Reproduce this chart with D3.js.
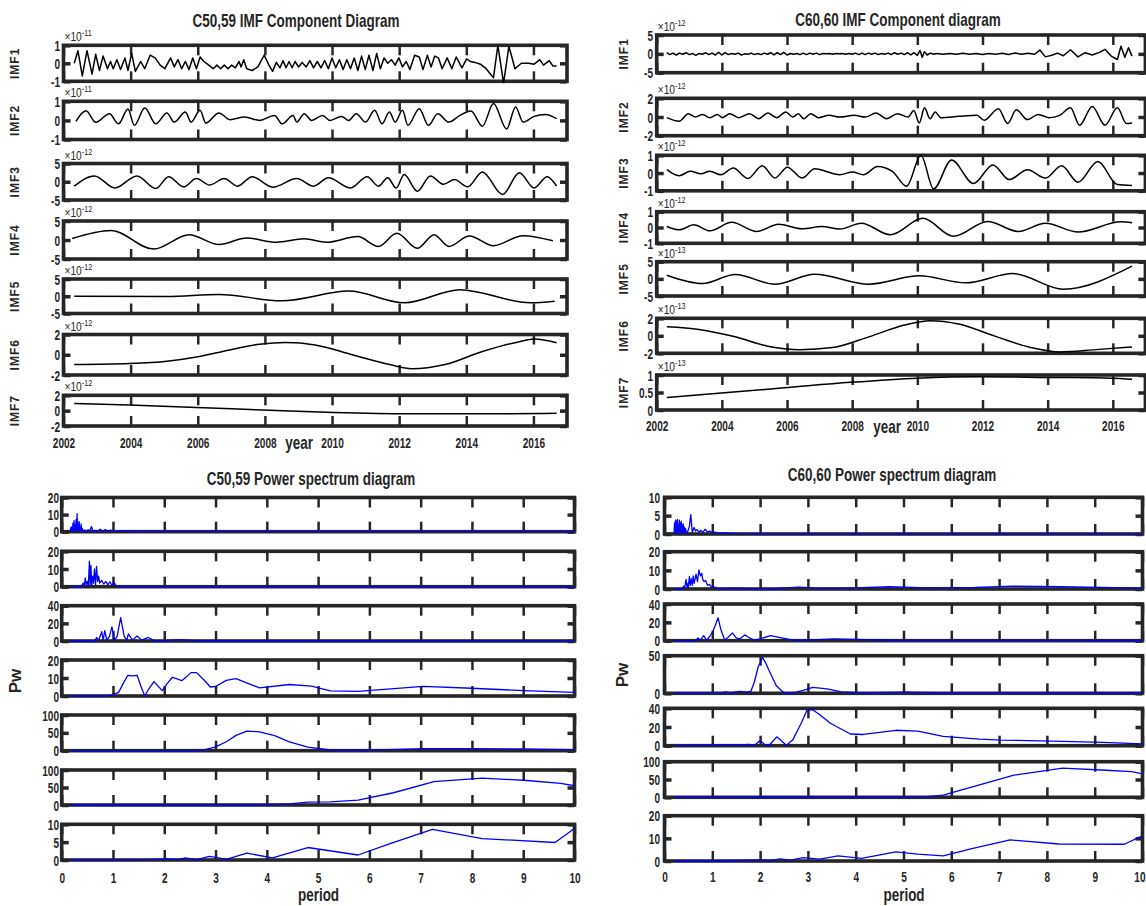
<!DOCTYPE html>
<html><head><meta charset="utf-8">
<script src="https://cdn.jsdelivr.net/npm/d3@7"></script>
<style>body{margin:0;background:#fff}svg{display:block}</style>
</head><body>
<script>
// ---------- tick labels / categories ----------
const yearTicks = [2002, 2004, 2006, 2008, 2010, 2012, 2014, 2016];
const periodTicks = [0, 1, 2, 3, 4, 5, 6, 7, 8, 9, 10];
const imfNames = ["IMF1", "IMF2", "IMF3", "IMF4", "IMF5", "IMF6", "IMF7"];

const c5059ImfExp = [-11, -11, -12, -12, -12, -12, -12];
const c5059ImfTicks = [[-1,0,1],[-1,0,1],[-5,0,5],[-5,0,5],[-5,0,5],[-2,0,2],[-2,0,2]];
const c6060ImfExp = [-12, -12, -12, -12, -13, -13, -13];
const c6060ImfTicks = [[-5,0,5],[-2,0,2],[-1,0,1],[-1,0,1],[-5,0,5],[-2,0,2],[0,0.5,1]];
const c5059PwTicks = [[0,10,20],[0,10,20],[0,20,40],[0,10,20],[0,50,100],[0,50,100],[0,5,10]];
const c6060PwTicks = [[0,5,10],[0,10,20],[0,20,40],[0,50],[0,20,40],[0,50,100],[0,10,20]];

// ---------- C50,59 IMF components  [year, value in units of 10^exp] ----------
const c5059Imf1 = [[2002.32,0],[2002.43,0.7],[2002.56,-0.7],[2002.70,0.7],[2002.85,-0.6],[2002.96,0.5],[2003.07,-0.4],[2003.18,0.4],[2003.31,-0.3],[2003.40,0.1],[2003.48,-0.3],[2003.59,0.2],[2003.70,-0.35],[2003.83,0.3],[2003.92,-0.4],[2004.03,0.55],[2004.14,-0.45],[2004.30,0.1],[2004.42,-0.3],[2004.58,0.45],[2004.73,0.3],[2004.88,-0.1],[2005.02,-0.3],[2005.19,0.3],[2005.30,-0.2],[2005.41,0.2],[2005.52,-0.3],[2005.63,0.1],[2005.74,-0.35],[2005.85,0.3],[2005.96,-0.3],[2006.07,0.35],[2006.18,0.1],[2006.29,-0.05],[2006.46,-0.3],[2006.57,-0.1],[2006.68,-0.3],[2006.79,-0.1],[2006.90,-0.3],[2007.01,-0.1],[2007.12,-0.25],[2007.23,0.1],[2007.29,-0.2],[2007.37,0.2],[2007.46,-0.3],[2007.62,-0.4],[2007.79,-0.2],[2007.98,0.45],[2008.12,-0.1],[2008.23,-0.45],[2008.34,0.05],[2008.45,-0.25],[2008.54,0.15],[2008.63,-0.25],[2008.72,0.1],[2008.81,-0.25],[2008.90,0.1],[2009.00,-0.2],[2009.11,0.05],[2009.23,-0.2],[2009.34,0.15],[2009.45,-0.25],[2009.56,0.1],[2009.67,-0.25],[2009.78,0.15],[2009.89,-0.3],[2010.00,0.3],[2010.11,-0.25],[2010.22,0.2],[2010.33,-0.35],[2010.44,0.2],[2010.55,-0.3],[2010.66,0.3],[2010.77,-0.4],[2010.88,0.4],[2010.99,-0.35],[2011.10,0.45],[2011.22,-0.4],[2011.33,0.55],[2011.44,-0.3],[2011.55,0.3],[2011.66,0.0],[2011.77,0.2],[2011.88,-0.1],[2011.99,0.3],[2012.10,-0.2],[2012.21,0.1],[2012.32,-0.35],[2012.46,0.45],[2012.60,0.35],[2012.71,-0.35],[2012.84,0.45],[2012.95,-0.2],[2013.06,0.4],[2013.17,0.3],[2013.28,-0.3],[2013.43,0.3],[2013.57,-0.3],[2013.70,0.35],[2013.87,-0.25],[2014.01,0.25],[2014.12,0.1],[2014.26,0.05],[2014.42,-0.05],[2014.59,-0.3],[2014.81,-0.8],[2014.94,1.0],[2015.11,-1.1],[2015.27,0.95],[2015.45,-0.3],[2015.64,0.0],[2015.86,0.0],[2016.02,-0.05],[2016.19,0.2],[2016.30,-0.1],[2016.47,0.15],[2016.58,-0.15],[2016.69,-0.15]];
const c5059Imf2 = [[2002.37,-0.05],[2002.67,0.5],[2002.96,-0.1],[2003.37,0.35],[2003.64,-0.18],[2003.92,0.6],[2004.11,-0.26],[2004.42,0.65],[2004.75,-0.18],[2005.08,0.39],[2005.30,-0.09],[2005.63,0.44],[2005.80,-0.09],[2006.07,0.53],[2006.24,-0.14],[2006.63,0.39],[2006.96,0.04],[2007.40,0.18],[2007.84,0.0],[2008.29,0.26],[2008.51,-0.18],[2008.84,0.26],[2008.95,-0.09],[2009.17,0.35],[2009.39,0.0],[2009.72,0.26],[2009.94,0.0],[2010.28,0.21],[2010.50,0.0],[2010.72,0.35],[2011.00,-0.09],[2011.27,0.53],[2011.49,-0.18],[2011.71,0.44],[2011.88,-0.09],[2012.10,0.53],[2012.26,-0.26],[2012.60,0.61],[2012.87,-0.26],[2013.15,0.35],[2013.48,-0.09],[2013.81,0.26],[2014.14,0.49],[2014.48,-0.3],[2014.81,0.88],[2015.20,-0.45],[2015.47,0.70],[2015.69,-0.09],[2016.02,0.21],[2016.36,0.31],[2016.69,0.09]];
const c5059Imf3 = [[2002.32,-1.2],[2002.92,1.6],[2003.53,-1.7],[2004.19,1.6],[2004.75,-1.85],[2005.13,1.4],[2005.58,-1.4],[2005.96,0.9],[2006.35,-0.9],[2006.79,0.9],[2007.18,-1.2],[2007.62,1.4],[2008.23,-1.5],[2008.95,0.9],[2009.45,-1.2],[2009.89,1.1],[2010.55,-1.7],[2011.05,1.4],[2011.38,-1.2],[2011.66,1.1],[2011.91,-1.7],[2012.15,2.0],[2012.54,-2.6],[2012.93,1.6],[2013.32,-0.7],[2013.65,0.6],[2014.04,-1.4],[2014.48,2.7],[2015.08,-3.5],[2015.58,2.5],[2016.02,-1.7],[2016.41,1.4],[2016.69,-1.2]];
const c5059Imf4 = [[2002.26,0.4],[2003.42,2.5],[2004.69,-2.4],[2005.74,1.4],[2006.63,-1.2],[2007.46,0.5],[2008.34,-0.6],[2009.17,0.3],[2009.83,-0.6],[2010.77,0.9],[2011.38,-1.7],[2011.93,1.75],[2012.54,-2.2],[2013.04,1.4],[2013.48,-1.7],[2014.09,1.05],[2014.81,-1.5],[2015.69,1.15],[2016.58,-0.2]];
const c5059Imf5 = [[2002.32,0],[2005.08,-0.1],[2006.63,0.5],[2008.51,-1.3],[2010.50,1.5],[2012.16,-1.9],[2013.81,1.9],[2015.91,-1.9],[2016.63,-1.45]];
const c5059Imf6 = [[2002.32,-0.97],[2003.97,-0.87],[2005.08,-0.65],[2005.96,-0.23],[2006.74,0.32],[2007.84,1.03],[2008.62,1.2],[2009.50,0.97],[2010.61,0.0],[2011.71,-0.97],[2012.38,-1.39],[2013.37,-0.97],[2014.48,0.32],[2015.58,1.29],[2016.02,1.55],[2016.69,1.19]];
const c5059Imf7 = [[2002.32,0.93],[2003.97,0.72],[2005.96,0.42],[2007.95,0.08],[2010.06,-0.25],[2012.27,-0.42],[2014.48,-0.42],[2016.69,-0.34]];

// ---------- C60,60 IMF components ----------
const c6060Imf1 = [[2002.31,0.3],[2002.4,-0.2],[2002.5,0.2],[2002.6,-0.3],[2002.7,0.2],[2002.8,-0.1],[2002.9,0.3],[2003.0,-0.2],[2003.1,0.1],[2003.2,-0.4],[2003.3,0.1],[2003.4,-0.1],[2003.5,0.3],[2003.6,-0.2],[2003.7,0.2],[2003.8,-0.3],[2003.9,0.4],[2004.0,-0.3],[2004.1,0.3],[2004.2,-0.2],[2004.3,0.1],[2004.4,-0.1],[2004.5,0.2],[2004.6,-0.3],[2004.7,0.0],[2004.8,-0.1],[2004.9,0.2],[2005.0,-0.2],[2005.1,0.1],[2005.2,-0.2],[2005.3,0.2],[2005.4,-0.1],[2005.5,0.3],[2005.6,-0.3],[2005.7,0.3],[2005.8,-0.2],[2005.9,0.4],[2006.0,-0.3],[2006.1,0.1],[2006.2,-0.1],[2006.3,0.1],[2006.4,-0.2],[2006.5,0.2],[2006.6,-0.2],[2006.7,0.2],[2006.8,-0.1],[2006.9,0.2],[2007.0,-0.2],[2007.1,0.1],[2007.2,0.0],[2007.3,0.1],[2007.4,-0.1],[2007.5,0.1],[2007.6,0.0],[2007.7,0.1],[2007.8,-0.1],[2007.9,0.1],[2008.0,-0.1],[2008.1,0.2],[2008.2,-0.2],[2008.3,0.2],[2008.4,-0.2],[2008.5,0.2],[2008.6,-0.1],[2008.7,0.2],[2008.8,-0.2],[2008.9,0.1],[2009.0,-0.1],[2009.1,0.2],[2009.2,-0.2],[2009.3,0.3],[2009.4,-0.1],[2009.5,0.2],[2009.6,-0.2],[2009.7,0.3],[2009.8,-0.3],[2009.9,0.3],[2010.0,-0.4],[2010.08,0.9],[2010.15,-0.9],[2010.22,0.6],[2010.3,-0.3],[2010.4,0.2],[2010.5,-0.1],[2010.6,0.1],[2010.8,-0.1],[2011.0,0.1],[2011.2,-0.1],[2011.4,0.15],[2011.6,-0.1],[2011.8,0.1],[2012.0,-0.15],[2012.2,0.1],[2012.4,-0.1],[2012.6,0.15],[2012.8,-0.15],[2013.0,0.2],[2013.2,-0.1],[2013.4,0.15],[2013.6,-0.1],[2013.76,1.0],[2013.93,-0.8],[2014.15,-0.3],[2014.3,0.2],[2014.48,-0.5],[2014.70,1.1],[2014.93,-0.8],[2015.15,0.3],[2015.37,-0.3],[2015.59,0.4],[2015.76,1.2],[2015.95,-0.6],[2016.14,-1.5],[2016.25,2.0],[2016.37,-0.9],[2016.48,1.6],[2016.59,-0.6]];
const c6060Imf2 = [[2002.31,-0.07],[2002.69,-0.46],[2002.97,0.35],[2003.19,0.0],[2003.41,0.28],[2003.63,-0.07],[2003.86,0.28],[2004.02,-0.07],[2004.24,0.35],[2004.52,-0.07],[2004.85,0.35],[2005.13,-0.18],[2005.41,0.42],[2005.68,-0.07],[2005.96,0.53],[2006.18,0.0],[2006.35,0.35],[2006.51,-0.18],[2006.73,0.35],[2006.96,-0.07],[2007.29,0.18],[2007.62,0.0],[2008.06,0.18],[2008.40,0.0],[2008.73,0.42],[2009.06,-0.18],[2009.39,0.35],[2009.72,0.0],[2009.89,0.7],[2010.06,-0.63],[2010.22,0.98],[2010.39,-0.18],[2010.55,0.53],[2010.72,-0.07],[2011.27,0.07],[2011.83,0.18],[2012.05,-0.35],[2012.49,0.88],[2012.77,-0.7],[2013.04,0.77],[2013.38,-0.28],[2013.71,0.28],[2014.04,-0.07],[2014.37,0.18],[2014.70,0.98],[2014.98,-0.88],[2015.37,1.12],[2015.76,-0.88],[2016.14,0.98],[2016.42,-0.7],[2016.59,-0.63]];
const c6060Imf3 = [[2002.31,0.19],[2002.69,-0.15],[2003.03,0.1],[2003.36,-0.04],[2003.63,0.1],[2003.97,-0.1],[2004.35,0.28],[2004.80,-0.31],[2005.24,0.41],[2005.63,-0.28],[2006.01,0.33],[2006.46,-0.28],[2006.85,0.24],[2007.62,-0.1],[2008.01,0.06],[2008.34,-0.1],[2008.78,0.37],[2009.23,0.1],[2009.67,-0.74],[2010.11,1.0],[2010.50,-0.89],[2011.05,0.74],[2011.72,-0.59],[2012.32,0.46],[2012.82,-0.37],[2013.38,0.19],[2013.93,-0.28],[2014.43,0.41],[2014.93,-0.52],[2015.54,0.65],[2016.14,-0.65],[2016.59,-0.7]];
const c6060Imf4 = [[2002.31,0.06],[2002.69,-0.15],[2003.14,0.17],[2003.63,-0.21],[2004.30,0.33],[2005.07,-0.25],[2005.74,0.21],[2006.46,-0.08],[2007.07,0.06],[2007.62,-0.1],[2008.28,0.27],[2009.17,-0.46],[2010.17,0.58],[2011.11,-0.56],[2012.16,0.38],[2013.10,-0.25],[2013.93,0.27],[2014.93,-0.29],[2016.25,0.36],[2016.59,0.3]];
const c6060Imf5 = [[2002.31,1.07],[2003.41,-1.36],[2004.41,1.26],[2005.63,-1.55],[2006.85,1.36],[2008.51,-1.55],[2010.06,0.87],[2011.49,-1.17],[2012.93,1.55],[2014.48,-3.0],[2016.59,3.7]];
const c6060Imf6 = [[2002.31,1.04],[2003.30,0.73],[2004.41,-0.12],[2005.41,-1.19],[2006.40,-1.58],[2007.40,-1.35],[2008.51,-0.12],[2009.61,1.23],[2010.39,1.73],[2011.27,1.35],[2012.38,-0.04],[2013.49,-1.35],[2014.37,-1.85],[2015.48,-1.58],[2016.59,-1.27]];
const c6060Imf7 = [[2002.31,0.36],[2004.08,0.49],[2006.01,0.64],[2007.95,0.79],[2010.00,0.91],[2011.94,0.95],[2014.04,0.93],[2015.98,0.91],[2016.59,0.88]];

// ---------- C50,59 power spectra  [period, Pw] ----------
const c5059Pw1 = [[0.17,0],[0.18,2.5],[0.19,0.3],[0.2,3],[0.21,0.5],[0.22,5],[0.23,1],[0.24,6.5],[0.25,0.5],[0.26,4],[0.27,1],[0.28,7],[0.29,0.5],[0.3,10.5],[0.31,1],[0.32,5],[0.33,0.5],[0.34,6],[0.35,1],[0.36,3],[0.37,0.5],[0.38,4.5],[0.39,0.5],[0.4,2],[0.42,0.3],[0.45,1],[0.48,0.2],[0.52,1.2],[0.55,0.3],[0.58,3],[0.61,0.3],[0.65,0.8],[0.7,0.2],[0.75,1.5],[0.8,0.3],[0.85,1.2],[0.9,0.3],[0.95,1],[1.0,0.2],[1.06,0.5],[1.12,0.1],[1.2,0.3],[1.3,0.1],[1.5,0.2],[2,0.1],[3,0.05],[10,0.05]];
const c5059Pw2 = [[0.17,0],[0.38,0],[0.42,2],[0.44,0.5],[0.46,5],[0.48,1],[0.5,3],[0.52,0.5],[0.54,14.5],[0.555,1],[0.57,12],[0.585,1],[0.6,6],[0.62,2],[0.64,10],[0.66,1],[0.68,11.5],[0.7,3],[0.72,6],[0.74,2],[0.78,3.5],[0.82,1.5],[0.86,3],[0.9,1],[0.94,2.8],[0.98,0.8],[1.02,2.5],[1.06,0.5],[1.1,0.3],[1.2,0.1],[2,0.05],[10,0.05]];
const c5059Pw3 = [[0.17,0],[0.6,0],[0.65,0.5],[0.68,4],[0.72,0.5],[0.78,10.5],[0.81,1],[0.84,11.7],[0.88,1],[0.93,5],[0.98,16],[1.03,1],[1.08,5],[1.15,26.5],[1.22,5],[1.27,1],[1.3,8],[1.38,1],[1.47,5.7],[1.56,1],[1.69,4],[1.8,0.5],[2.0,0.5],[2.3,1.5],[2.6,0.5],[3,0.3],[4,0.3],[10,0.2]];
const c5059Pw4 = [[0.17,0],[0.89,0],[1.0,0.8],[1.11,2],[1.2,7],[1.29,11.5],[1.38,11.2],[1.47,11.5],[1.55,5],[1.62,0],[1.7,4],[1.8,8],[1.88,5.5],[1.96,3],[2.06,7],[2.16,10.4],[2.25,9.5],[2.34,8.5],[2.43,10.5],[2.52,13],[2.63,13],[2.77,9],[2.9,5],[3.0,5.3],[3.21,8.7],[3.4,9.6],[3.63,7],[3.86,4.5],[4.44,6.4],[4.87,5.5],[5.24,2.8],[5.78,2.6],[7.05,5.3],[7.99,4.3],[9.0,3],[10,2]];
const c5059Pw5 = [[0.17,0],[2.56,0],[2.77,2],[2.99,10],[3.21,25],[3.4,43],[3.61,55],[3.86,53],[4.15,42],[4.44,25],[4.8,10],[5.24,2],[5.78,1],[7.05,6],[7.99,6],[8.93,5],[10,3]];
const c5059Pw6 = [[0.17,0],[4.0,1],[4.44,3],[4.8,8],[5.24,9],[5.78,14],[6.47,35],[7.26,67],[8.2,77],[9.07,70],[9.73,62],[10,55]];
const c5059Pw7 = [[0.17,0],[0.96,0],[1.69,0.1],[2.05,0.3],[2.27,0.1],[2.41,0.6],[2.63,0.1],[2.88,1],[3.06,0.6],[3.21,0.2],[3.61,1.9],[4.11,0.6],[4.8,3.5],[5.78,1.4],[6.39,4.5],[7.23,8.6],[8.2,6],[9.62,4.9],[10,8.8]];

// ---------- C60,60 power spectra ----------
const c6060Pw1 = [[0.2,0],[0.21,3],[0.22,0.3],[0.23,3.8],[0.24,0.5],[0.25,3.5],[0.26,0.3],[0.27,4],[0.28,0.5],[0.29,2.5],[0.3,0.3],[0.31,3.8],[0.32,0.5],[0.33,3],[0.34,0.3],[0.35,3.5],[0.36,0.5],[0.37,2.5],[0.38,0.3],[0.39,2.8],[0.4,0.5],[0.41,2],[0.42,0.3],[0.44,1.5],[0.46,0.2],[0.48,0.5],[0.52,2],[0.55,5.3],[0.58,0.5],[0.62,1.8],[0.65,0.8],[0.68,1.2],[0.72,0.5],[0.76,1],[0.8,0.4],[0.85,1.3],[0.9,0.5],[0.95,0.8],[1,0.3],[1.05,0.5],[1.15,0.2],[1.3,0.3],[1.45,0.1],[2,0.05],[10,0.05]];
const c6060Pw2 = [[0.2,0],[0.36,0],[0.4,1.5],[0.42,0.5],[0.45,5.2],[0.47,1],[0.49,3],[0.5,1],[0.52,6.6],[0.54,2],[0.56,5.5],[0.58,2],[0.6,7],[0.62,3],[0.66,8],[0.69,4],[0.72,10.2],[0.75,7],[0.78,8.4],[0.8,5],[0.83,4],[0.86,4.5],[0.9,2],[0.94,2.5],[0.98,1],[1.02,1],[1.07,0.9],[1.12,0.2],[1.2,0.3],[1.5,0.5],[1.8,0.2],[2.3,0.2],[2.8,1],[3.3,0.3],[4,0.6],[4.7,1.2],[5.5,0.6],[6.5,0.8],[7.3,1.5],[8.3,1.2],[10,0.5]];
const c6060Pw3 = [[0.2,0],[0.65,0],[0.7,3],[0.75,0.5],[0.82,5.6],[0.88,0.5],[0.95,5],[1.0,9],[1.05,15],[1.12,25],[1.18,12],[1.26,0.7],[1.34,4],[1.42,8.5],[1.5,3],[1.58,2],[1.68,6.3],[1.78,3],[1.88,0.5],[2.0,2],[2.22,5.5],[2.45,3],[2.72,0.3],[3.1,1],[3.55,2],[4.0,1.5],[4.7,0.5],[6,0.3],[10,0.2]];
const c6060Pw4 = [[0.2,0],[1.2,0.5],[1.27,2],[1.39,1],[1.58,2.5],[1.73,1.5],[1.81,3],[1.88,15],[1.96,35],[2.05,47.7],[2.12,40],[2.19,30],[2.34,10],[2.49,1],[2.72,1],[2.9,4],[3.1,7.9],[3.4,6],[3.7,2],[4.08,0.5],[5.07,1.5],[5.83,0.5],[10,0.5]];
const c6060Pw5 = [[0.2,0],[1.5,0.5],[1.77,1.5],[1.88,0.3],[2.0,5.5],[2.1,1],[2.19,0.5],[2.35,9.5],[2.55,0.5],[2.68,6],[2.87,25],[2.98,38],[3.1,38.5],[3.25,33],[3.47,24],[3.89,12.5],[4.16,12],[4.84,16.5],[5.3,15.5],[5.83,10],[6.59,7],[7.04,6],[8.1,5],[9.17,3.5],[10,2]];
const c6060Pw6 = [[0.2,0],[5.07,0.5],[5.45,1],[5.83,6],[6.59,35],[7.31,62],[8.33,82],[9.24,76],[9.77,72],[10,66]];
const c6060Pw7 = [[0.2,0],[1.27,0.1],[1.65,0.3],[2.03,0.5],[2.22,0.2],[2.41,0.9],[2.64,0.4],[2.9,1.5],[3.25,0.8],[3.63,2.3],[4.12,1.2],[4.84,4],[5.3,3],[5.83,2.3],[6.43,5.5],[7.23,9.3],[8.25,7.5],[9.62,7.4],[9.96,10.8],[10,11]];

// ---------- drawing ----------
const AX = "#262626";
const FONT = "'Liberation Sans', Arial, Helvetica, sans-serif";
const SX = 0.72;          // horizontal squeeze of the condensed labels
const TICK_FS = 14;       // tick label font size
const W = 1146, H = 906;

const svg = d3.select("body").append("svg").attr("width", W).attr("height", H);

function label(x, y, s, o) {
  let tr = `translate(${x},${y})`;
  if (o.rot) tr += ` rotate(${o.rot})`;
  tr += ` scale(${o.sx || 1},1)`;
  const t = svg.append("g").attr("transform", tr).append("text")
    .attr("text-anchor", o.anchor || "middle")
    .attr("font-family", FONT)
    .attr("font-weight", o.weight || "bold")
    .attr("font-size", o.size)
    .attr("fill", o.fill || AX)
    .text(s);
  if (o.ls) t.attr("letter-spacing", o.ls);
  if (o.dy) t.attr("dy", o.dy);
  return t;
}

const panels = [
  { key: "tl", kind: "imf", title: "C50,59 IMF Component Diagram", tx: 296, ty: 27,
    x0: 63.5, x1: 567, domain: [2002, 2017], xTicks: yearTicks,
    rows: [[45.3,81.3],[101.3,139.5],[163.5,200],[221,259],[279,313.5],[334.5,375],[395.3,426]],
    series: [c5059Imf1,c5059Imf2,c5059Imf3,c5059Imf4,c5059Imf5,c5059Imf6,c5059Imf7],
    yTicks: c5059ImfTicks, exps: c5059ImfExp, yLabX: 60, rowLabX: 15, xTickBase: 22,
    xlab: "year", xlx: 299, xly: 449 },
  { key: "tr", kind: "imf", title: "C60,60 IMF Component diagram", tx: 898, ty: 26,
    x0: 656.7, x1: 1145.4, domain: [2002, 2017], xTicks: yearTicks,
    rows: [[35,72.7],[98.3,135.7],[155.3,190.8],[211.7,243.3],[261.7,296],[318.3,353.3],[375,410]],
    series: [c6060Imf1,c6060Imf2,c6060Imf3,c6060Imf4,c6060Imf5,c6060Imf6,c6060Imf7],
    yTicks: c6060ImfTicks, exps: c6060ImfExp, yLabX: 653, rowLabX: 624, xTickBase: 21,
    xlab: "year", xlx: 887, xly: 433 },
  { key: "bl", kind: "pw", title: "C50,59 Power spectrum diagram", tx: 311, ty: 485,
    x0: 61.7, x1: 574.5, domain: [0, 10], xTicks: periodTicks,
    rows: [[497.5,531.7],[551.3,586.7],[605.7,641],[660,696],[715,750.7],[770,805],[824.3,860]],
    series: [c5059Pw1,c5059Pw2,c5059Pw3,c5059Pw4,c5059Pw5,c5059Pw6,c5059Pw7],
    yTicks: c5059PwTicks, yLabX: 59, xTickBase: 23,
    xlab: "period", xlx: 318.5, xly: 901, pwx: 15, pwy: 681 },
  { key: "br", kind: "pw", title: "C60,60 Power spectrum diagram", tx: 892, ty: 481,
    x0: 664.5, x1: 1142.5, domain: [0, 10], xTicks: periodTicks,
    rows: [[497.3,534],[551.7,589],[604,640.7],[655.7,693.3],[708.3,745.7],[761.7,797.3],[815.7,861]],
    series: [c6060Pw1,c6060Pw2,c6060Pw3,c6060Pw4,c6060Pw5,c6060Pw6,c6060Pw7],
    yTicks: c6060PwTicks, yLabX: 660, xTickBase: 21.5,
    xlab: "period", xlx: 904, xly: 901, pwx: 622, pwy: 675 }
];

function styleAxis(ga, w) {
  ga.select(".domain").remove();
  ga.attr("color", AX).attr("font-family", FONT).attr("font-size", TICK_FS).attr("font-weight", "bold");
  ga.selectAll(".tick line").attr("stroke-width", w);
}

panels.forEach(p => {
  const x = d3.scaleLinear().domain(p.domain).range([p.x0, p.x1]);
  const nRows = p.rows.length;

  p.rows.forEach(([top, bot], i) => {
    const tv = p.yTicks[i];
    const y = d3.scaleLinear().domain([tv[0], tv[tv.length - 1]]).range([bot, top]);
    const g = svg.append("g");
    const clipId = `clip-${p.key}-${i}`;
    g.append("clipPath").attr("id", clipId).append("rect")
      .attr("x", p.x0).attr("y", top - 2).attr("width", p.x1 - p.x0).attr("height", bot - top + 4);

    // axes: inward ticks on all four sides
    const last = i === nRows - 1;
    const gb = g.append("g").attr("transform", `translate(0,${bot})`)
      .call(d3.axisBottom(x).tickValues(p.xTicks).tickSizeInner(-10).tickSizeOuter(0)
        .tickFormat(last ? d => String(d) : () => ""));
    styleAxis(gb, 2.5);
    gb.selectAll("text").attr("y", p.xTickBase).attr("dy", null).attr("transform", `scale(${SX},1)`);
    // keep the last label inside the page edge
    gb.selectAll(".tick").each(function (d) {
      const cx = x(d);
      const halfW = String(d).length * 0.556 * TICK_FS * SX / 2;
      if (cx + halfW > W - 1) d3.select(this).select("text").attr("x", (W - 1 - halfW - cx) / SX);
    });

    const gt = g.append("g").attr("transform", `translate(0,${top})`)
      .call(d3.axisTop(x).tickValues(p.xTicks).tickSizeInner(-10).tickSizeOuter(0).tickFormat(() => ""));
    styleAxis(gt, 2.5);

    const gl = g.append("g").attr("transform", `translate(${p.x0},0)`)
      .call(d3.axisLeft(y).tickValues(tv).tickSizeInner(-7).tickSizeOuter(0).tickFormat(d => String(d)));
    styleAxis(gl, 3.5);
    gl.selectAll("text").attr("x", -(p.x0 - p.yLabX) / SX).attr("dy", "0.36em")
      .attr("transform", `scale(${SX},1)`);

    const gr = g.append("g").attr("transform", `translate(${p.x1},0)`)
      .call(d3.axisRight(y).tickValues(tv).tickSizeInner(-7).tickSizeOuter(0).tickFormat(() => ""));
    styleAxis(gr, 3.5);

    // frame
    g.append("rect").attr("x", p.x0).attr("y", top).attr("width", p.x1 - p.x0).attr("height", bot - top)
      .attr("fill", "none").attr("stroke", AX).attr("stroke-width", 3.6);

    // data
    const curve = p.kind === "pw" ? d3.curveLinear : (i === 0 ? d3.curveLinear : d3.curveMonotoneX);
    const line = d3.line().x(d => x(d[0])).y(d => y(d[1])).curve(curve);
    g.append("path").datum(p.series[i]).attr("d", line)
      .attr("clip-path", `url(#${clipId})`)
      .attr("fill", "none")
      .attr("stroke", p.kind === "pw" ? "#0000ff" : "#000")
      .attr("stroke-width", p.kind === "pw" ? 1.3 : 1.5)
      .attr("stroke-linejoin", "round");

    if (p.kind === "imf") {
      // exponent marker above the frame
      const t = svg.append("g").attr("transform", `translate(${p.x0 + 1},${top - 4}) scale(0.85,1)`)
        .append("text").attr("font-family", FONT).attr("font-size", 12).attr("fill", AX);
      t.append("tspan").text("\u00d710");
      t.append("tspan").attr("font-size", 8.5).attr("dy", -5).text(String(p.exps[i]));
      // component name
      label(p.rowLabX, (top + bot) / 2, imfNames[i], { size: 12, rot: -90, dy: "0.36em", ls: 1 });
    }
  });

  label(p.tx, p.ty, p.title, { size: 18, sx: 0.75 });
  label(p.xlx, p.xly, p.xlab, { size: 18, sx: 0.75 });
  if (p.kind === "pw") label(p.pwx, p.pwy, "Pw", { size: 17, rot: -90, dy: "0.36em" });
});
</script>
</body></html>
